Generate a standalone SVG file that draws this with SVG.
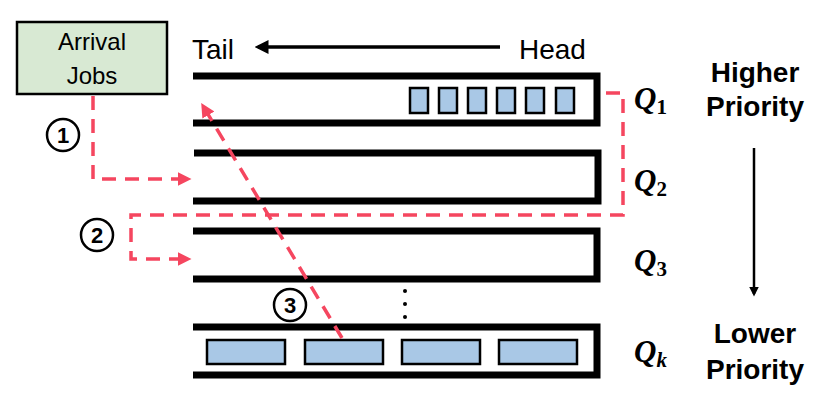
<svg xmlns="http://www.w3.org/2000/svg" width="830" height="408" viewBox="0 0 830 408">
<style>
.q{fill:none;stroke:#000;stroke-width:7}
.jb{fill:#a9c8e6;stroke:#000;stroke-width:2.5}
.d{fill:none;stroke:#f5465f;stroke-width:3.5;stroke-dasharray:14,9}
.t{font-family:"Liberation Sans",Arial,sans-serif;font-size:24px}
.th{font-family:"Liberation Sans",Arial,sans-serif;font-size:28px}
.b{font-family:"Liberation Sans",Arial,sans-serif;font-size:28px;font-weight:bold}
.ql{font-family:"Liberation Serif","Times New Roman",serif;font-size:31px;font-weight:bold;font-style:italic}
.c{fill:#fff;stroke:#000;stroke-width:2.5}
.cn{font-family:"Liberation Sans",Arial,sans-serif;font-size:22px;font-weight:bold;text-anchor:middle}
</style>
<defs>
<marker id="ra" markerWidth="4" markerHeight="4" refX="3" refY="2" orient="auto" markerUnits="strokeWidth"><path d="M0,0L4,2L0,4z" fill="#f5465f"/></marker>
<marker id="ka" markerWidth="4" markerHeight="4" refX="3" refY="2" orient="auto" markerUnits="strokeWidth"><path d="M0,0L4,2L0,4z" fill="#000"/></marker>
</defs>
<g id="arrival"><rect x="17" y="22" width="150" height="72" fill="#d8e9d3" stroke="#000" stroke-width="2.5"/>
<text class="t" x="92" y="50" text-anchor="middle">Arrival</text><text class="t" x="92" y="84" text-anchor="middle">Jobs</text></g>
<g id="headtail"><text class="th" x="192" y="59">Tail</text><text class="th" x="519" y="59">Head</text>
<line x1="500" y1="47" x2="258" y2="47" stroke="#000" stroke-width="3.5" marker-end="url(#ka)"/></g>
<g id="q1"><path class="q" d="M193,76H597V123H193"/>
<rect class="jb" x="410" y="88" width="18" height="25"/><rect class="jb" x="439" y="88" width="18" height="25"/><rect class="jb" x="468" y="88" width="18" height="25"/><rect class="jb" x="497" y="88" width="18" height="25"/><rect class="jb" x="526" y="88" width="18" height="25"/><rect class="jb" x="556" y="88" width="18" height="25"/>
<text class="ql" x="634" y="109">Q<tspan font-size="21" font-style="normal" dy="5">1</tspan></text></g>
<g id="q2"><path class="q" d="M194,153H598V201H193"/><text class="ql" x="634" y="191">Q<tspan font-size="21" font-style="normal" dy="5">2</tspan></text></g>
<g id="q3"><path class="q" d="M193,231H597V279H193"/><text class="ql" x="634" y="271">Q<tspan font-size="21" font-style="normal" dy="5">3</tspan></text></g>
<g id="qk"><path class="q" d="M193,327H597V375H193"/>
<rect class="jb" x="207" y="340" width="78" height="24"/><rect class="jb" x="305" y="340" width="78" height="24"/><rect class="jb" x="402" y="340" width="78" height="24"/><rect class="jb" x="499" y="340" width="78" height="24"/>
<text class="ql" x="634" y="362">Q<tspan font-size="21" dy="5">k</tspan></text></g>
<g id="dots" fill="#000"><circle cx="405" cy="291" r="2"/><circle cx="405" cy="304" r="2"/><circle cx="405" cy="317" r="2"/></g>
<g id="priority"><text class="b" x="755" y="82" text-anchor="middle">Higher</text><text class="b" x="755" y="116" text-anchor="middle">Priority</text>
<line x1="754" y1="148" x2="754" y2="294" stroke="#000" stroke-width="2.5" marker-end="url(#ka)"/>
<text class="b" x="755" y="343" text-anchor="middle">Lower</text><text class="b" x="755" y="379" text-anchor="middle">Priority</text></g>
<g id="connectors">
<path class="d" d="M93,96V179H188" marker-end="url(#ra)"/>
<path class="d" d="M606,93H623V215H131V259H188" marker-end="url(#ra)"/>
<path class="d" d="M342,338L203,106" marker-end="url(#ra)"/>
</g>
<g id="labels">
<circle class="c" cx="63" cy="135" r="16"/><text class="cn" x="63" y="143">1</text>
<circle class="c" cx="97" cy="235" r="16"/><text class="cn" x="97" y="243">2</text>
<circle class="c" cx="290" cy="305" r="16"/><text class="cn" x="290" y="313">3</text>
</g>
</svg>
